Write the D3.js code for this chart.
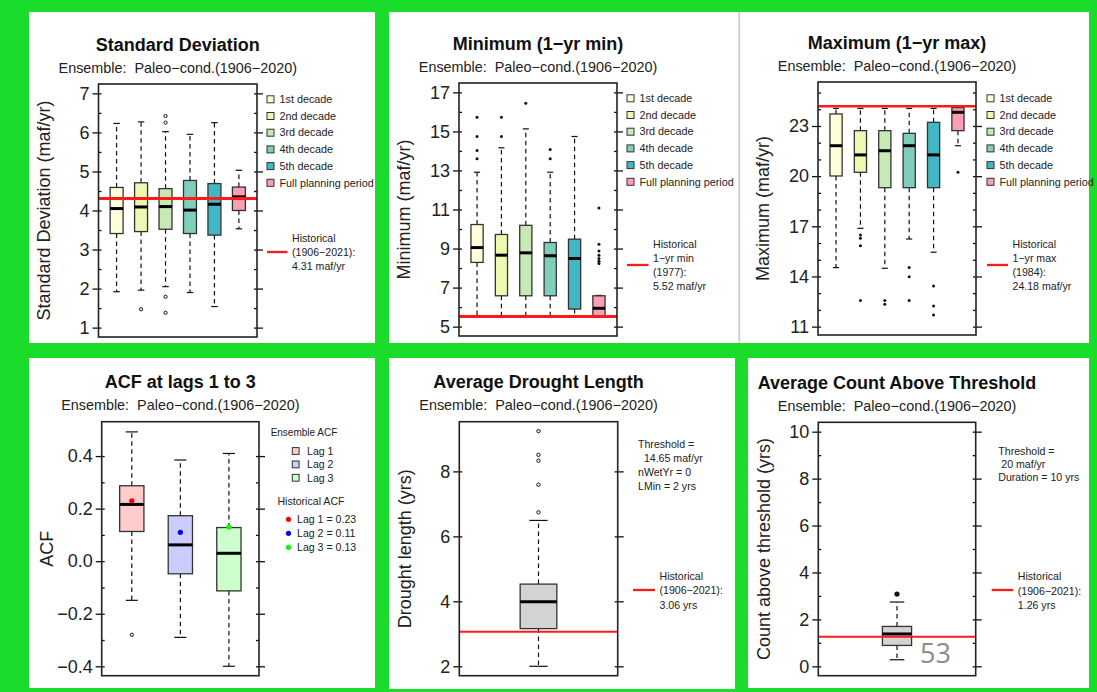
<!DOCTYPE html>
<html>
<head>
<meta charset="utf-8">
<script src="https://cdn.jsdelivr.net/npm/d3@7"></script>
<style>
body { margin: 0; background: #1adc2a; }
svg { display: block; font-family: "Liberation Sans", Arial, sans-serif; }
</style>
</head>
<body>
<script>
// ---- data ----
var decades = ["1st decade", "2nd decade", "3rd decade", "4th decade", "5th decade", "Full planning period"];
var lags = ["Lag 1", "Lag 2", "Lag 3"];

// box stats: [lower whisker, q1, median, q3, upper whisker]
var sdStats = [
  [1.92, 3.41, 4.05, 4.59, 6.23],
  [1.96, 3.46, 4.09, 4.71, 6.27],
  [2.05, 3.52, 4.10, 4.56, 6.02],
  [1.90, 3.41, 4.01, 4.77, 5.95],
  [1.54, 3.37, 4.16, 4.69, 6.25],
  [3.53, 4.00, 4.35, 4.60, 5.03]
];
var sdOutliers = [[], [1.47], [6.42, 6.25, 1.79, 1.38], [], [], []];
var sdHist = 4.31;

var minStats = [
  [5.55, 8.29, 9.05, 10.23, 12.91],
  [5.55, 6.58, 8.66, 9.72, 14.16],
  [5.55, 6.58, 8.78, 10.19, 15.13],
  [5.55, 6.58, 8.63, 9.31, 12.91],
  [5.55, 5.90, 8.49, 9.48, 14.74],
  [5.52, 5.54, 5.94, 6.58, 6.60]
];
var minOutliers = [[15.72, 14.74, 14.02, 13.60], [15.72, 14.74], [16.44], [14.07, 13.60], [],
  [11.08, 9.22, 8.88, 8.66, 8.49, 8.35, 8.23]];
var minHist = 5.52;

var maxStats = [
  [14.53, 20.01, 21.82, 23.72, 24.05],
  [16.88, 20.23, 21.27, 22.72, 24.05],
  [14.49, 19.31, 21.52, 22.72, 24.05],
  [16.24, 19.31, 21.82, 22.56, 24.05],
  [15.45, 19.31, 21.27, 23.22, 24.05],
  [21.82, 22.72, 23.82, 24.10, 24.18]
];
var maxOutliers = [[], [16.48, 16.28, 15.84, 12.56], [12.56, 12.34], [14.53, 13.99, 12.56],
  [13.43, 12.24, 11.70], [20.23]];
var maxHist = 24.18;

var acfStats = [
  [-0.149, 0.113, 0.216, 0.287, 0.492],
  [-0.290, -0.048, 0.062, 0.173, 0.385],
  [-0.400, -0.113, 0.030, 0.128, 0.410]
];
var acfOutliers = [[-0.28], [], []];
var acfHist = [0.23, 0.11, 0.13];

var droughtStats = [[2.00, 3.16, 3.99, 4.53, 6.49]];
var droughtOutliers = [[9.24, 8.51, 8.33, 7.59, 6.74]];
var droughtHist = 3.06;

var countStats = [[0.28, 0.89, 1.38, 1.70, 2.74]];
var countOutliers = [[3.08]];
var countHist = 1.26;

// colours
var decadeColors = ["#ffffd9", "#edf8b1", "#c7e9b4", "#7fcdbb", "#41b6c4", "#fa9fb5"];
var lagColors = ["#ffcccc", "#ccccff", "#ccffcc"];
var lagPointColors = ["#ff0000", "#0000ff", "#00ff00"];

var W = 1097, H = 692;
var svg = d3.select("body").append("svg").attr("width", W).attr("height", H);
svg.append("rect").attr("width", W).attr("height", H).attr("fill", "#1adc2a");

// white panels
[[29, 12, 346, 331], [389, 12, 700, 331], [29, 358, 346, 330], [389, 358, 346, 331], [748, 358, 341, 330]]
  .forEach(function(r) {
    svg.append("rect").attr("x", r[0]).attr("y", r[1]).attr("width", r[2]).attr("height", r[3]).attr("fill", "#fff");
  });
svg.append("rect").attr("x", 738.3).attr("y", 12).attr("width", 1.8).attr("height", 331).attr("fill", "#cfcfcf");

function boxPanel(p) {
  var g = svg.append("g");
  var n = p.stats.length;
  var x = d3.scaleLinear().domain([0.5 - 0.04 * n, n + 0.5 + 0.04 * n]).range([p.x0, p.x1]);
  var ext = (p.ylim[1] - p.ylim[0]) * 0.04;
  var y = d3.scaleLinear().domain([p.ylim[0] - ext, p.ylim[1] + ext]).range([p.y1, p.y0]);
  var hw = p.boxW * (x(1) - x(0)) / 2;

  p.stats.forEach(function(s, i) {
    var cx = x(i + 1);
    // whiskers
    [[s[3], s[4]], [s[1], s[0]]].forEach(function(w) {
      g.append("line").attr("x1", cx).attr("x2", cx).attr("y1", y(w[0])).attr("y2", y(w[1]))
        .attr("stroke", "#111").attr("stroke-width", 1.2).attr("stroke-dasharray", "4.5,3.5");
      g.append("line").attr("x1", cx - hw / 2).attr("x2", cx + hw / 2).attr("y1", y(w[1])).attr("y2", y(w[1]))
        .attr("stroke", "#111").attr("stroke-width", 1.2);
    });
    g.append("rect").attr("x", cx - hw).attr("width", 2 * hw)
      .attr("y", y(s[3])).attr("height", y(s[1]) - y(s[3]))
      .attr("fill", p.colors[i]).attr("stroke", "#333").attr("stroke-width", 1.3);
    g.append("line").attr("x1", cx - hw).attr("x2", cx + hw).attr("y1", y(s[2])).attr("y2", y(s[2]))
      .attr("stroke", "#000").attr("stroke-width", 3);
    g.selectAll(null).data(p.outliers[i]).enter().append("circle")
      .attr("cx", cx).attr("cy", function(d) { return y(d); })
      .attr("r", p.ptR)
      .attr("fill", p.ptFill ? "#111" : "none")
      .attr("stroke", "#111").attr("stroke-width", p.ptFill ? 0 : 1);
  });

  if (p.hist != null) {
    g.append("line").attr("x1", p.x0).attr("x2", p.x1).attr("y1", y(p.hist)).attr("y2", y(p.hist))
      .attr("stroke", "#ff1a1a").attr("stroke-width", p.histW);
  }
  if (p.points) {
    p.points.forEach(function(v, i) {
      g.append("circle").attr("cx", x(i + 1)).attr("cy", y(v)).attr("r", 2.6).attr("fill", lagPointColors[i]);
    });
  }

  // axes on both sides
  var fmt = d3.format(p.fmt);
  var left = g.append("g").attr("transform", "translate(" + p.x0 + ",0)")
    .call(d3.axisLeft(y).tickValues(p.major).tickSize(6).tickPadding(3).tickFormat(fmt));
  left.selectAll(".tick line").attr("x1", 3);
  var right = g.append("g").attr("transform", "translate(" + p.x1 + ",0)")
    .call(d3.axisRight(y).tickValues(p.major).tickSize(6).tickFormat(""));
  right.selectAll(".tick line").attr("x1", -3);
  if (p.minor) {
    g.append("g").attr("transform", "translate(" + p.x0 + ",0)")
      .call(d3.axisLeft(y).tickValues(p.minor).tickSize(-3).tickFormat(""));
    g.append("g").attr("transform", "translate(" + p.x1 + ",0)")
      .call(d3.axisRight(y).tickValues(p.minor).tickSize(-3).tickFormat(""));
  }
  g.selectAll(".domain").remove();
  g.selectAll(".tick line").attr("stroke", "#111").attr("stroke-width", 1.3);
  left.selectAll(".tick text").attr("font-size", 18).attr("fill", "#222")
    .attr("font-family", "Liberation Sans, Arial, sans-serif");

  g.append("rect").attr("x", p.x0).attr("y", p.y0).attr("width", p.x1 - p.x0).attr("height", p.y1 - p.y0)
    .attr("fill", "none").attr("stroke", "#222").attr("stroke-width", 1.6);

  var mid = (p.x0 + p.x1) / 2;
  g.append("text").attr("x", mid).attr("y", p.y0 - 33.5).attr("text-anchor", "middle")
    .attr("font-size", 18).attr("font-weight", "bold").attr("fill", "#111").text(p.title);
  g.append("text").attr("x", mid).attr("y", p.y0 - 11.5).attr("text-anchor", "middle")
    .attr("font-size", 14.4).attr("fill", "#222").style("white-space", "pre")
    .text("Ensemble:  Paleo\u2212cond.(1906\u22122020)");
  g.append("text").attr("transform", "translate(" + (p.x0 - 55) + "," + ((p.y0 + p.y1) / 2) + ") rotate(-90)")
    .attr("text-anchor", "middle").attr("dy", "0.35em").attr("font-size", 18).attr("fill", "#222")
    .text(p.ylabel);
  return g;
}

function note(lines, x, y0, step) {
  lines.forEach(function(t, i) {
    svg.append("text").attr("x", x).attr("y", y0 + i * step).attr("dy", "0.35em")
      .attr("font-size", 10.6).attr("fill", "#222").style("white-space", "pre").text(t);
  });
}
function histKey(x0, x1, y, lines, ty0, step) {
  svg.append("line").attr("x1", x0).attr("x2", x1).attr("y1", y).attr("y2", y)
    .attr("stroke", "#ff1a1a").attr("stroke-width", 2.3);
  note(lines, x1 + 4.5, ty0, step);
}
function decadeKey(x, y0) {
  decades.forEach(function(d, i) {
    var yy = y0 + i * 16.7;
    svg.append("rect").attr("x", x).attr("y", yy - 3.5).attr("width", 7).attr("height", 7)
      .attr("fill", decadeColors[i]).attr("stroke", "#333").attr("stroke-width", 1);
    svg.append("text").attr("x", x + 12.5).attr("y", yy).attr("dy", "0.35em")
      .attr("font-size", 10.8).attr("fill", "#222").text(d);
  });
}

// ---- top row ----
boxPanel({ x0: 98.5, x1: 257, y0: 84, y1: 337, ylim: [1, 7], stats: sdStats, outliers: sdOutliers,
  colors: decadeColors, boxW: 0.53, ptR: 1.6, ptFill: false, hist: sdHist, histW: 3,
  major: [1, 2, 3, 4, 5, 6, 7], minor: [1.5, 2.5, 3.5, 4.5, 5.5, 6.5], fmt: "d",
  title: "Standard Deviation", ylabel: "Standard Deviation (maf/yr)" });
decadeKey(267, 99.3);
histKey(267, 287.5, 252, ["Historical", "(1906\u22122021):", "4.31 maf/yr"], 238.5, 14);

boxPanel({ x0: 459, x1: 617, y0: 83, y1: 336, ylim: [5, 17], stats: minStats, outliers: minOutliers,
  colors: decadeColors, boxW: 0.5, ptR: 1.5, ptFill: true, hist: minHist, histW: 3,
  major: [5, 7, 9, 11, 13, 15, 17], minor: [6, 8, 10, 12, 14, 16], fmt: "d",
  title: "Minimum (1\u2212yr min)", ylabel: "Minimum (maf/yr)" });
decadeKey(627, 98.3);
histKey(627, 648.5, 265, ["Historical", "1\u2212yr min", "(1977):", "5.52 maf/yr"], 244, 14);

boxPanel({ x0: 818, x1: 976, y0: 82, y1: 335, ylim: [11.06, 25.07], stats: maxStats, outliers: maxOutliers,
  colors: decadeColors, boxW: 0.5, ptR: 1.5, ptFill: true, hist: maxHist, histW: 2.6,
  major: [11, 14, 17, 20, 23], minor: [12, 13, 15, 16, 18, 19, 21, 22, 24, 25], fmt: "d",
  title: "Maximum (1\u2212yr max)", ylabel: "Maximum (maf/yr)" });
decadeKey(987, 98.3);
histKey(987, 1008, 265, ["Historical", "1\u2212yr max", "(1984):", "24.18 maf/yr"], 244, 14);

// ---- bottom row ----
boxPanel({ x0: 101.7, x1: 259, y0: 421.7, y1: 675.7, ylim: [-0.40, 0.495], stats: acfStats, outliers: acfOutliers,
  colors: lagColors, boxW: 0.5, ptR: 1.6, ptFill: false, hist: null, points: acfHist,
  major: [-0.4, -0.2, 0, 0.2, 0.4], minor: [-0.3, -0.1, 0.1, 0.3], fmt: ".1f",
  title: "ACF at lags 1 to 3", ylabel: "ACF" });
svg.append("text").attr("x", 304).attr("y", 432.3).attr("dy", "0.35em").attr("text-anchor", "middle")
  .attr("font-size", 10).attr("fill", "#222").text("Ensemble ACF");
lags.forEach(function(d, i) {
  var yy = 451 + i * 13.4;
  svg.append("rect").attr("x", 292.3).attr("y", yy - 3.4).attr("width", 6.8).attr("height", 6.8)
    .attr("fill", lagColors[i]).attr("stroke", "#333").attr("stroke-width", 1);
  svg.append("text").attr("x", 307).attr("y", yy).attr("dy", "0.35em")
    .attr("font-size", 10.6).attr("fill", "#222").text(d);
});
svg.append("text").attr("x", 311).attr("y", 501.7).attr("dy", "0.35em").attr("text-anchor", "middle")
  .attr("font-size", 10.6).attr("fill", "#222").text("Historical ACF");
acfHist.forEach(function(v, i) {
  var yy = 519.3 + i * 14;
  svg.append("circle").attr("cx", 288.5).attr("cy", yy).attr("r", 2.6).attr("fill", lagPointColors[i]);
  svg.append("text").attr("x", 297).attr("y", yy).attr("dy", "0.35em")
    .attr("font-size", 10.6).attr("fill", "#222").text(lags[i] + " = " + v.toFixed(2));
});

boxPanel({ x0: 459.3, x1: 617.7, y0: 421.7, y1: 675.7, ylim: [2.0, 9.24], stats: droughtStats, outliers: droughtOutliers,
  colors: ["#d3d3d3"], boxW: 0.25, ptR: 1.7, ptFill: false, hist: droughtHist, histW: 2,
  major: [2, 4, 6, 8], minor: null, fmt: "d",
  title: "Average Drought Length", ylabel: "Drought length (yrs)" });
note(["Threshold =", "  14.65 maf/yr", "nWetYr = 0", "LMin = 2 yrs"], 638, 444.3, 14);
histKey(633, 655, 590, ["Historical", "(1906\u22122021):", "3.06 yrs"], 576, 14.5);

boxPanel({ x0: 818.3, x1: 975.7, y0: 422.3, y1: 675.7, ylim: [0, 10], stats: countStats, outliers: countOutliers,
  colors: ["#d3d3d3"], boxW: 0.2, ptR: 2.6, ptFill: true, hist: countHist, histW: 2,
  major: [0, 2, 4, 6, 8, 10], minor: [1, 3, 5, 7, 9], fmt: "d",
  title: "Average Count Above Threshold", ylabel: "Count above threshold (yrs)" });
note(["Threshold =", " 20 maf/yr", "Duration = 10 yrs"], 998.3, 451.7, 13);
histKey(991.7, 1013.3, 590, ["Historical", "(1906\u22122021):", "1.26 yrs"], 576.7, 14.2);

// slide number
svg.append("text").attr("x", 920).attr("y", 653).attr("dy", "0.36em")
  .attr("font-family", "Open Sans, sans-serif").attr("font-size", 27).attr("fill", "#8c8c8c").text("53");
</script>
</body>
</html>
